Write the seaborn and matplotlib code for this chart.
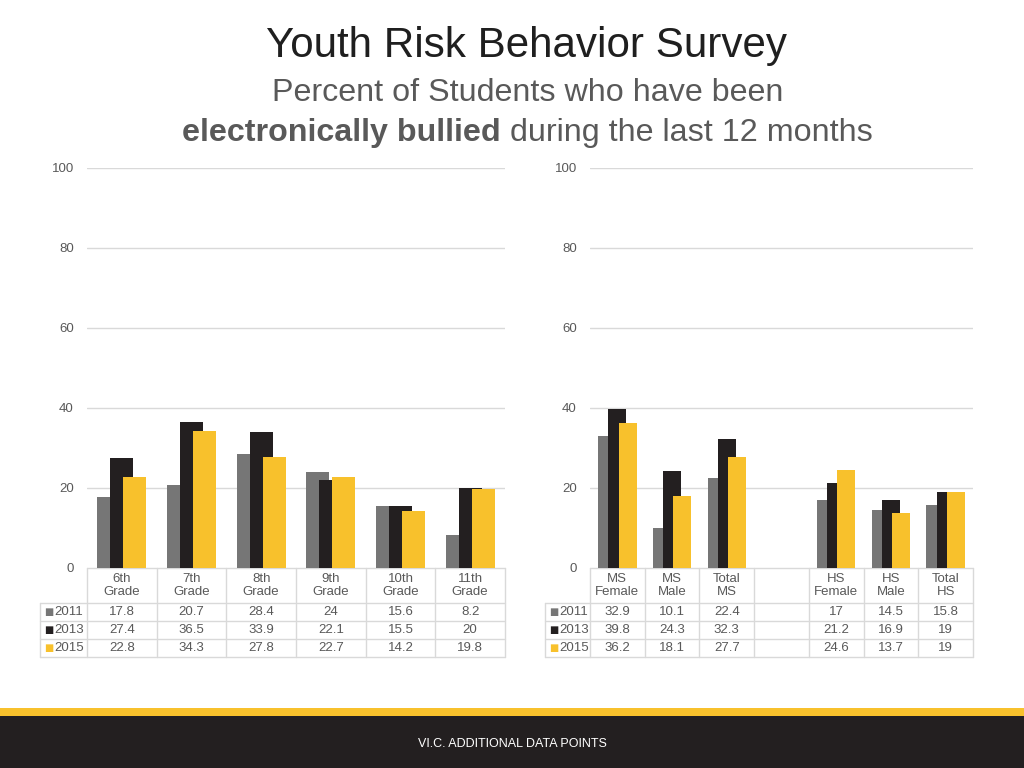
import numpy as np
import pandas as pd
import matplotlib
matplotlib.use('Agg')
import matplotlib.pyplot as plt
from matplotlib.patches import Rectangle
import seaborn as sns

# ---- data ----
years = ['2011', '2013', '2015']
grade_labels = ['6th\nGrade', '7th\nGrade', '8th\nGrade', '9th\nGrade', '10th\nGrade', '11th\nGrade']
grade_2011 = [17.8, 20.7, 28.4, 24, 15.6, 8.2]
grade_2013 = [27.4, 36.5, 33.9, 22.1, 15.5, 20]
grade_2015 = [22.8, 34.3, 27.8, 22.7, 14.2, 19.8]

group_labels = ['MS\nFemale', 'MS\nMale', 'Total\nMS', '', 'HS\nFemale', 'HS\nMale', 'Total\nHS']
group_2011 = [32.9, 10.1, 22.4, np.nan, 17, 14.5, 15.8]
group_2013 = [39.8, 24.3, 32.3, np.nan, 21.2, 16.9, 19]
group_2015 = [36.2, 18.1, 27.7, np.nan, 24.6, 13.7, 19]

yticks = [0, 20, 40, 60, 80, 100]

colors = {'2011': '#767676', '2013': '#231f20', '2015': '#f8c12c'}
grid_c = '#d9d9d9'
txt_c = '#595959'

sns.set_theme(style='white')
plt.rcParams['font.family'] = ['Liberation Sans', 'DejaVu Sans']

W, H = 1024, 768
fig = plt.figure(figsize=(W / 100, H / 100), dpi=100)


def px_axes(x0, x1, y_top, y_bot):
    return fig.add_axes([x0 / W, (H - y_bot) / H, (x1 - x0) / W, (y_bot - y_top) / H])


def panel(ax, labels, series, leg_px):
    n = len(labels)
    pos = np.arange(n)
    offset = 0.186
    for k, yr in enumerate(years):
        df = pd.DataFrame({'x': pos + (k - 1) * offset, 'v': series[k]}).dropna()
        sns.barplot(data=df, x='x', y='v', native_scale=True, width=0.33,
                    color=colors[yr], saturation=1, errorbar=None, ax=ax,
                    linewidth=0, zorder=3)
    ax.set_xlim(-0.5, n - 0.5)
    ax.set_ylim(0, 100)
    ax.set_yticks(yticks)
    ax.set_xticks([])
    ax.set_xlabel('')
    ax.set_ylabel('')
    ax.tick_params(axis='y', length=0, pad=9.5, labelsize=9.5, labelcolor=txt_c)
    for s in ax.spines.values():
        s.set_visible(False)
    for t in yticks[1:]:
        ax.axhline(t, color=grid_c, lw=1, zorder=1)

    # data table under the bars
    ax_h = ax.get_window_extent().height
    slot = ax.get_window_extent().width / n
    hdr = 35 / ax_h
    row = 18 / ax_h
    left = -0.5 - leg_px / slot
    trans = ax.get_xaxis_transform()
    bottom = -(hdr + 3 * row)
    kw = dict(color=grid_c, lw=1, transform=trans, clip_on=False, zorder=2)
    ax.plot([-0.5, n - 0.5], [0, 0], **kw)
    for r in range(4):
        yy = -(hdr + r * row)
        ax.plot([left, n - 0.5], [yy, yy], **kw)
    ax.plot([left, left], [-hdr, bottom], **kw)
    for i in range(n + 1):
        ax.plot([i - 0.5, i - 0.5], [0, bottom], **kw)
    for i, lab in enumerate(labels):
        ax.text(i, -hdr / 2, lab, transform=trans, ha='center', va='center',
                fontsize=9.5, color=txt_c, linespacing=1.15)
    for k, yr in enumerate(years):
        yy = -(hdr + (k + 0.5) * row)
        ax.text(left + 4 / slot, yy, '\u25a0', transform=trans, ha='left', va='center',
                fontsize=7, color=colors[yr], family='DejaVu Sans')
        ax.text(left + 14 / slot, yy, yr, transform=trans, ha='left', va='center',
                fontsize=9.5, color=txt_c)
        for i, v in enumerate(series[k]):
            if np.isnan(v):
                continue
            ax.text(i, yy, f'{v:g}', transform=trans, ha='center', va='center',
                    fontsize=9.5, color=txt_c)


ax1 = px_axes(87, 505, 168, 568)
ax2 = px_axes(590, 973, 168, 568)
panel(ax1, grade_labels, [grade_2011, grade_2013, grade_2015], 47)
panel(ax2, group_labels, [group_2011, group_2013, group_2015], 45)

# titles
fig.text(527 / W, 1 - 57 / H, 'Youth Risk Behavior Survey', ha='center', va='baseline',
         fontsize=30.3, color='#1f1f1f')
fig.text(528 / W, 1 - 101 / H, 'Percent of Students who have been', ha='center', va='baseline',
         fontsize=23.2, color=txt_c)
renderer = fig.canvas.get_renderer()
y3 = 1 - 141 / H
t1 = fig.text(0, y3, 'electronically bullied', ha='left', va='baseline',
              fontsize=23.2, weight='bold', color=txt_c)
t2 = fig.text(0, y3, ' during the last 12 months', ha='left', va='baseline',
              fontsize=23.2, color=txt_c)
w1 = t1.get_window_extent(renderer).width
w2 = t2.get_window_extent(renderer).width
x_start = 527.5 - (w1 + w2) / 2
t1.set_x(x_start / W)
t2.set_x((x_start + w1) / W)

# footer band
fig.add_artist(Rectangle((0, 0), 1, 52 / H, transform=fig.transFigure,
                         color='#231f20', lw=0))
fig.add_artist(Rectangle((0, 52 / H), 1, 8 / H, transform=fig.transFigure,
                         color='#f8c12c', lw=0))
fig.text(0.5, 1 - 744 / H, 'VI.C. ADDITIONAL DATA POINTS', ha='center', va='center',
         fontsize=9, color='white')

fig.savefig('out.png', dpi=100, facecolor='white')
